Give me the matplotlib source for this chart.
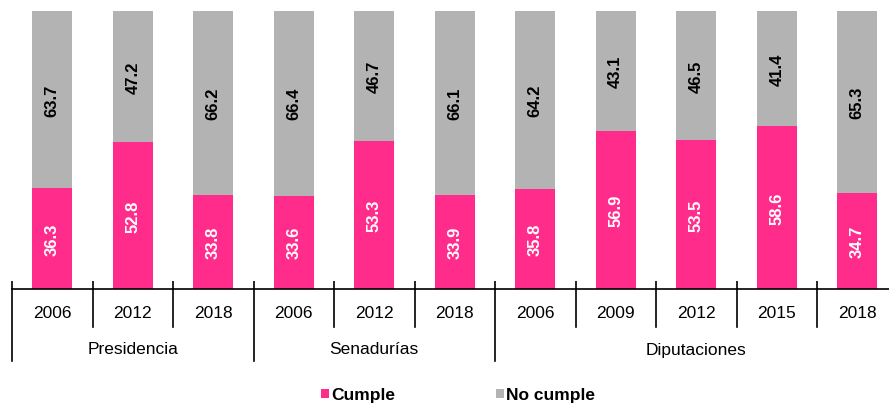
import matplotlib.pyplot as plt
import matplotlib.transforms as mtransforms
import numpy as np

plt.rcParams['font.family'] = ['Liberation Sans', 'DejaVu Sans']

# datos
anios = ['2006', '2012', '2018', '2006', '2012', '2018', '2006', '2009', '2012', '2015', '2018']
grupos = ['Presidencia', 'Senadurías', 'Diputaciones']
n_por_grupo = [3, 3, 5]
cumple = [36.3, 52.8, 33.8, 33.6, 53.3, 33.9, 35.8, 56.9, 53.5, 58.6, 34.7]
no_cumple = [63.7, 47.2, 66.2, 66.4, 46.7, 66.1, 64.2, 43.1, 46.5, 41.4, 65.3]

rosa = '#FF2C8C'
gris = '#B3B3B3'

W, H = 889, 406
fig = plt.figure(figsize=(W / 100, H / 100), dpi=100)
ax = fig.add_axes([12 / W, (H - 290) / H, 885.5 / W, 278 / H])

x = np.arange(len(anios))
b1 = ax.bar(x, cumple, width=0.5, color=rosa, label='Cumple')
b2 = ax.bar(x, no_cumple, width=0.5, bottom=cumple, color=gris, label='No cumple')

for i in range(len(anios)):
    ax.text(x[i], cumple[i] / 2, f'{cumple[i]:.1f}', rotation=90, ha='center', va='center',
            color='white', fontsize=12, fontweight='bold')
    ax.text(x[i], cumple[i] + no_cumple[i] / 2, f'{no_cumple[i]:.1f}', rotation=90,
            ha='center', va='center', color='black', fontsize=12, fontweight='bold')

ax.set_xlim(-0.5, len(anios) - 0.5)
ax.set_ylim(0, 100)
for s in ['top', 'right', 'left']:
    ax.spines[s].set_visible(False)
ax.spines['bottom'].set_linewidth(1.2)
ax.set_yticks([])
ax.set_xticks(np.arange(len(anios) + 1) - 0.5)
ax.set_xticklabels([])
ax.tick_params(axis='x', direction='in', length=6, width=1.2)

trans = mtransforms.blended_transform_factory(ax.transData, ax.transAxes)
px = 1 / 278  # un pixel en coordenadas del eje

# separadores de años y grupos
limites = np.cumsum([0] + n_por_grupo)
for b in range(len(anios) + 1):
    largo = 72 if b in limites else 38
    ax.plot([b - 0.5, b - 0.5], [0, -largo * px], color='black', lw=1.2,
            transform=trans, clip_on=False)

for i, a in enumerate(anios):
    ax.text(i, -23 * px, a, ha='center', va='center', fontsize=12.5, transform=trans)

for g, nombre in enumerate(grupos):
    centro = (limites[g] + limites[g + 1]) / 2 - 0.5
    ax.text(centro, -60 * px, nombre, ha='center', va='center', fontsize=12.5, transform=trans)

fig.legend(handles=[b1, b2], loc='center', bbox_to_anchor=(458 / W, (H - 396) / H), ncol=2,
           frameon=False, handlelength=0.45, handleheight=0.45, handletextpad=0.15,
           columnspacing=5.8, prop={'weight': 'bold', 'size': 12.5})

fig.savefig('out.png', dpi=100)
